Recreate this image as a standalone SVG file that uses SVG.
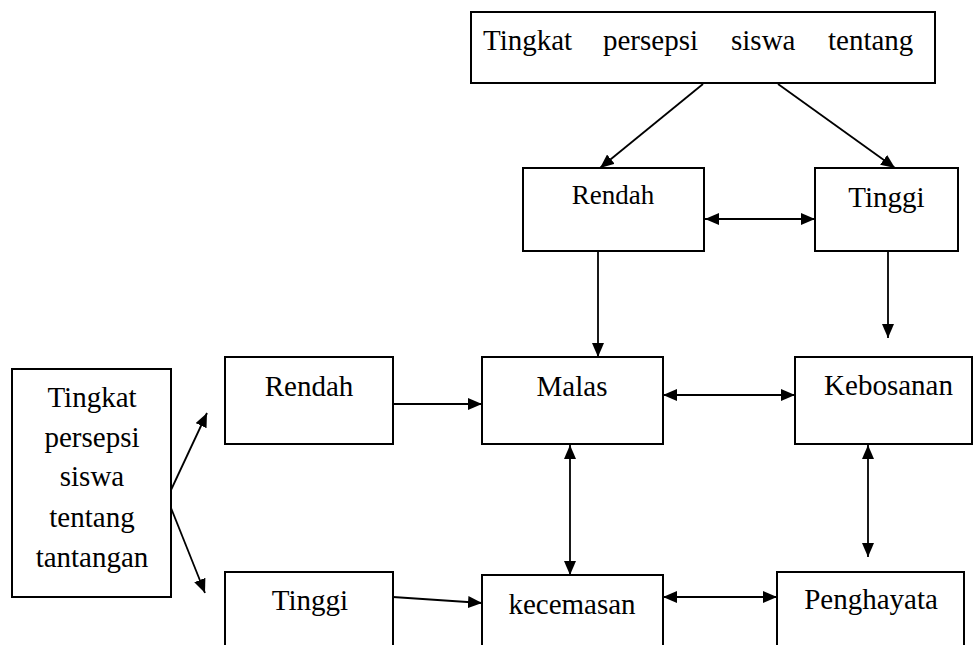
<svg xmlns="http://www.w3.org/2000/svg" width="974" height="645" viewBox="0 0 974 645">
<style>
.box{fill:#fff;stroke:#000;stroke-width:2}
.t{font-family:"Liberation Serif","Times New Roman",serif;font-size:29px;fill:#000;text-anchor:middle}
.c{stroke:#000;stroke-width:1.8;fill:none}
</style>
<defs>
<marker id="ah" viewBox="0 0 14 12" refX="14" refY="6" markerWidth="14" markerHeight="12" markerUnits="userSpaceOnUse" orient="auto-start-reverse">
<path d="M0,0 L14,6 L0,12 z" fill="#000"/>
</marker>
</defs>
<rect width="974" height="645" fill="#fff"/>
<g id="connectors">
<line class="c" x1="703" y1="84" x2="600" y2="168" marker-end="url(#ah)"/>
<line class="c" x1="778" y1="84" x2="895" y2="168" marker-end="url(#ah)"/>
<line class="c" x1="705" y1="219" x2="815" y2="219" marker-start="url(#ah)" marker-end="url(#ah)"/>
<line class="c" x1="598" y1="251" x2="598" y2="357" marker-end="url(#ah)"/>
<line class="c" x1="888" y1="251" x2="888" y2="338" marker-end="url(#ah)"/>
<line class="c" x1="393" y1="404" x2="482" y2="404" marker-end="url(#ah)"/>
<line class="c" x1="663" y1="395" x2="795" y2="395" marker-start="url(#ah)" marker-end="url(#ah)"/>
<line class="c" x1="570" y1="445" x2="570" y2="575" marker-start="url(#ah)" marker-end="url(#ah)"/>
<line class="c" x1="868" y1="445" x2="868" y2="557" marker-start="url(#ah)" marker-end="url(#ah)"/>
<line class="c" x1="663" y1="597" x2="777" y2="597" marker-start="url(#ah)" marker-end="url(#ah)"/>
<line class="c" x1="393" y1="597" x2="482" y2="603" marker-end="url(#ah)"/>
<line class="c" x1="171" y1="490" x2="207" y2="413" marker-end="url(#ah)"/>
<line class="c" x1="171" y1="508" x2="205" y2="593" marker-end="url(#ah)"/>
</g>
<g id="top">
<rect class="box" x="471" y="12" width="464" height="71"/>
<text class="t" style="text-anchor:start" y="50"><tspan x="483">Tingkat</tspan><tspan x="603">persepsi</tspan><tspan x="731">siswa</tspan><tspan x="828">tentang</tspan></text>
</g>
<g id="rendah-top">
<rect class="box" x="523" y="168" width="181" height="83"/>
<text class="t" x="613" y="204" style="font-size:27px">Rendah</text>
</g>
<g id="tinggi-top">
<rect class="box" x="815" y="168" width="143" height="83"/>
<text class="t" x="886.5" y="207">Tinggi</text>
</g>
<g id="left">
<rect class="box" x="12" y="369" width="159" height="228"/>
<text class="t" x="92" y="407">Tingkat</text>
<text class="t" x="92" y="447">persepsi</text>
<text class="t" x="92" y="486">siswa</text>
<text class="t" x="92" y="527">tentang</text>
<text class="t" x="92" y="567">tantangan</text>
</g>
<g id="rendah">
<rect class="box" x="225" y="357" width="168" height="87"/>
<text class="t" x="309" y="396">Rendah</text>
</g>
<g id="malas">
<rect class="box" x="482" y="357" width="181" height="87"/>
<text class="t" x="572" y="396">Malas</text>
</g>
<g id="kebosanan">
<rect class="box" x="795" y="357" width="177" height="87"/>
<text class="t" x="888.5" y="395">Kebosanan</text>
</g>
<g id="tinggi">
<rect class="box" x="225" y="572" width="168" height="90"/>
<text class="t" x="310" y="610">Tinggi</text>
</g>
<g id="kecemasan">
<rect class="box" x="482" y="575" width="181" height="90"/>
<text class="t" x="572" y="614">kecemasan</text>
</g>
<g id="penghayata">
<rect class="box" x="777" y="572" width="187" height="90"/>
<text class="t" x="871" y="609">Penghayata</text>
</g>
</svg>
